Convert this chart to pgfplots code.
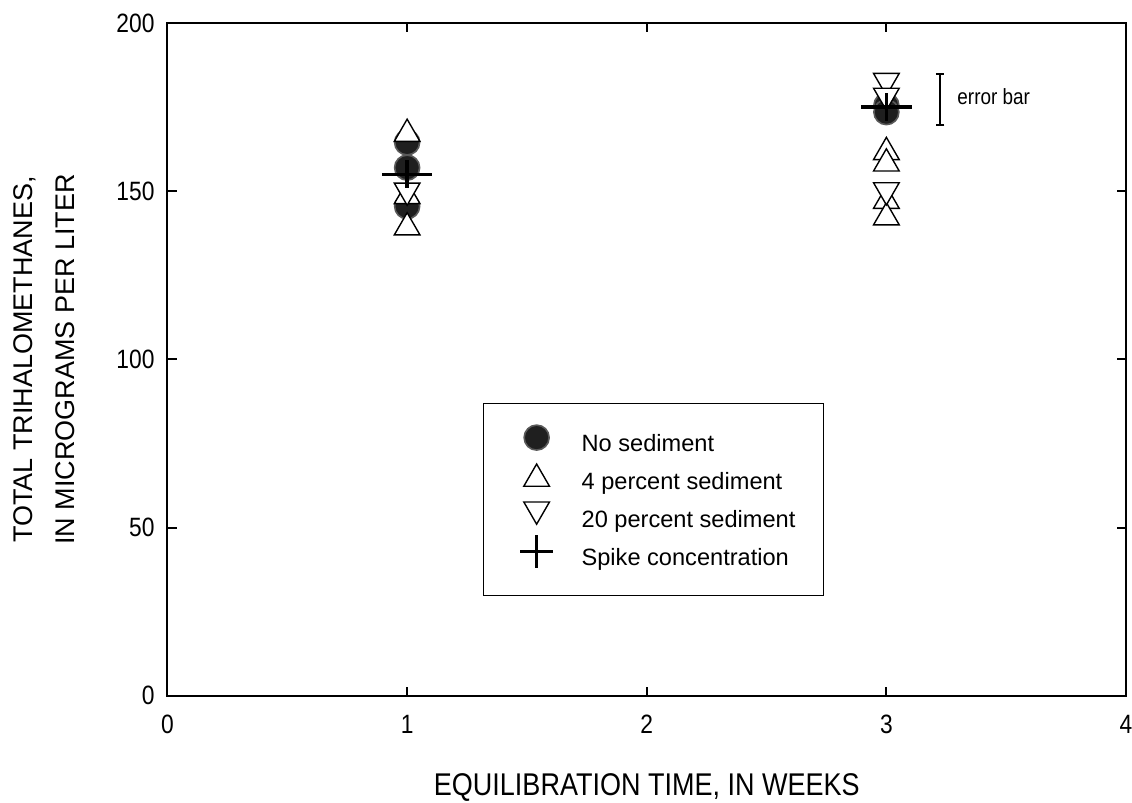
\documentclass[border=0pt]{standalone}
\usepackage{pgfplots}
\pgfplotsset{compat=1.18}
\usepackage{pgfplotstable}
\usepackage{fontspec}
\setmainfont{Liberation Sans}
\newfontfamily\condfont{Liberation Sans}[FakeStretch=0.86]

\pgfplotstableread{
x y
1 164.5
1 157
1 145.5
3 175.5
3 173.5
}\nosed
\pgfplotstableread{
x y
1 167
1 148.5
1 139.2
3 161.6
3 158.2
3 147.1
3 142.2
}\fourpct
\pgfplotstableread{
x y
1 150.2
3 182.8
3 178.4
3 150.3
}\twentypct
\pgfplotstableread{
x y
1 155
3 175
}\spike

\begin{document}
\begin{tikzpicture}
\begin{axis}[
  scale only axis,
  width=479.25pt, height=336.35pt,
  xmin=0, xmax=4, ymin=0, ymax=200,
  xtick={0,1,2,3,4}, ytick={0,50,100,150,200},
  tick align=inside,
  major tick length=4.5pt,
  axis line style={line width=1pt, black},
  tick style={line width=1pt, black},
  /pgf/number format/assume math mode=true,
  ticklabel style={font=\condfont\fontsize{13.25}{15}\selectfont},
  xticklabel style={yshift=-6pt},
  yticklabel style={xshift=-3pt},
  xlabel={EQUILIBRATION TIME, IN WEEKS},
  xlabel style={font=\condfont\fontsize{15.7}{18}\selectfont, at={(axis description cs:0.5,-0.149)}, anchor=base},
  ylabel={TOTAL TRIHALOMETHANES,\\IN MICROGRAMS PER LITER},
  ylabel style={font=\fontsize{13.5}{21}\selectfont, align=center, at={(axis description cs:-0.0892,0.5)}, anchor=south},
  legend cell align=left,
  legend style={at={(axis description cs:0.3292,0.4351)}, anchor=north west, draw=black, line width=0.6pt,
    inner xsep=10pt, inner ysep=12pt, row sep=4pt, font=\fontsize{11.8}{14}\selectfont,
    nodes={inner ysep=0pt, inner xsep=4pt, text height=9pt, text depth=3pt}},
  clip=false,
]
% legend images
\addlegendimage{legend image code/.code={\path[draw=none, fill=none] (0pt,-3pt) rectangle (35pt,9pt); \draw[overlay, only marks, mark=*, mark size=6.25pt, mark options={fill=black!88, draw=black!65, line width=0.8pt}] plot coordinates {(16.5pt,4pt)};}}
\addlegendimage{legend image code/.code={\path[draw=none, fill=none] (0pt,-3pt) rectangle (35pt,9pt); \draw[overlay, only marks, mark=triangle*, mark size=7.4pt, mark options={fill=white, draw=black, line width=0.7pt}] plot coordinates {(16.5pt,2.4pt)};}}
\addlegendimage{legend image code/.code={\path[draw=none, fill=none] (0pt,-3pt) rectangle (35pt,9pt); \draw[overlay, only marks, mark=triangle*, mark size=7.4pt, mark options={fill=white, draw=black, line width=0.7pt, rotate=180}] plot coordinates {(16.5pt,6.1pt)};}}
\addlegendimage{legend image code/.code={\path[draw=none, fill=none] (0pt,-3pt) rectangle (35pt,9pt); \draw[overlay, only marks, mark=+, mark size=8.3pt, mark options={draw=black, line width=1.7pt}] plot coordinates {(16.5pt,4pt)};}}
\legend{No sediment, 4 percent sediment, 20 percent sediment, Spike concentration}

\addplot[only marks, forget plot, mark=*, mark size=6.25pt, mark options={fill=black!88, draw=black!65, line width=0.8pt}] table[x=x,y=y] {\nosed};
\addplot[only marks, forget plot, mark=triangle*, mark size=7.4pt, mark options={fill=white, draw=black, line width=0.7pt}] table[x=x,y=y] {\fourpct};
\addplot[only marks, forget plot, mark=triangle*, mark size=7.4pt, mark options={fill=white, draw=black, line width=0.7pt, rotate=180}] table[x=x,y=y] {\twentypct};
\addplot[only marks, forget plot, mark=+, mark size=7pt, mark options={draw=black, line width=1.7pt, xscale=1.8}] table[x=x,y=y] {\spike};
% error bar illustration
\addplot[draw=none, mark=none, forget plot, error bars/.cd, y dir=both, y explicit,
  error bar style={draw=black, line width=1.2pt},
  error mark options={draw=black, line width=1.2pt, mark size=2.1pt, rotate=90}]
  coordinates {(3.224,177.2) +- (0,7.6)};
\node[anchor=west, font=\condfont\fontsize{11}{13}\selectfont, inner sep=0pt] at (axis cs:3.295,178) {error bar};
\end{axis}
\pgfresetboundingbox
\path[use as bounding box] ([shift={(-83.75pt,-53.15pt)}]current axis.south west) rectangle ([shift={(3pt,11.5pt)}]current axis.north east);
\end{tikzpicture}
\end{document}
